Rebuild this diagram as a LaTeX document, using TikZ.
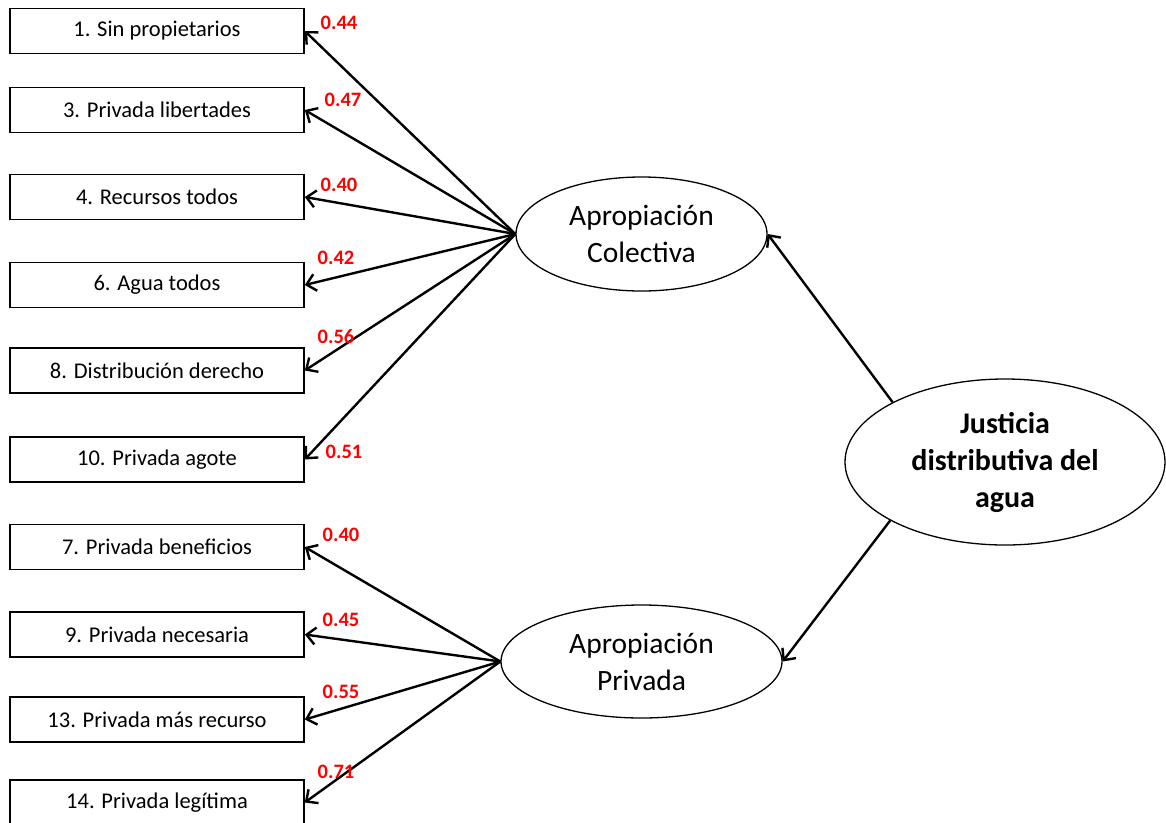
\documentclass[tikz,border=0pt]{standalone}
\usepackage{fontspec}
\setmainfont{Carlito}
\usetikzlibrary{arrows.meta,shapes.geometric}
\definecolor{lblred}{RGB}{255,0,0}
\begin{document}
\begin{tikzpicture}[x=1pt,y=-1pt,
  item/.style={draw,line width=1.6pt,minimum width=294pt,minimum height=45pt,inner sep=0pt,
    font=\fontsize{22.5}{26}\selectfont},
  latent/.style={draw,ellipse,line width=1.3pt,inner sep=0pt,align=center,
    font=\fontsize{29.5}{37}\selectfont},
  load/.style={lblred,font=\bfseries\fontsize{20.5}{24}\selectfont,inner sep=0pt},
  path/.style={line width=2.4pt,-{Straight Barb[length=9pt,width=17pt]}}]
\clip (0,0) rectangle (1166,822);
\fill[white] (0,0) rectangle (1166,822);
% observed items
\node[item] (i1)  at (157,31)    {1. Sin propietarios};
\node[item] (i3)  at (157,110)   {3. Privada libertades};
\node[item] (i4)  at (157,197)   {4. Recursos todos};
\node[item] (i6)  at (157,285)   {6. Agua todos};
\node[item] (i8)  at (157,370.5) {8. Distribución derecho};
\node[item] (i10) at (157,459.5) {10. Privada agote};
\node[item] (i7)  at (157,547)   {7. Privada beneficios};
\node[item] (i9)  at (157,634.5) {9. Privada necesaria};
\node[item] (i13) at (157,719.5) {13. Privada más recurso};
\node[item] (i14) at (157,802.5) {14. Privada legítima};
% latent variables
\node[latent,minimum width=251pt,minimum height=114pt] (C) at (641.5,234) {Apropiación\\Colectiva};
\node[latent,minimum width=281pt,minimum height=113pt] (P) at (641.5,661.5) {Apropiación\\Privada};
\node[latent,minimum width=320pt,minimum height=166pt,font=\bfseries\fontsize{30}{37}\selectfont] (J) at (1005,462) {Justicia\\distributiva del\\agua};
% paths
\draw[path] (J.152) -- (C.east);
\draw[path] (J.207) -- (P.east);
\foreach \t in {i1,i3,i4,i6,i8,i10} \draw[path] (C.west) -- (\t.east);
\foreach \t in {i7,i9,i13,i14} \draw[path] (P.west) -- (\t.east);
% loadings
\node[load] (l1)  at (339,23)  {0.44};
\node[load] (l3)  at (343,100) {0.47};
\node[load] (l4)  at (339,185) {0.40};
\node[load] (l6)  at (336,258) {0.42};
\node[load] (l8)  at (336,337) {0.56};
\node[load] (l10) at (344,452) {0.51};
\node[load] (l7)  at (341,535) {0.40};
\node[load] (l9)  at (341,620) {0.45};
\node[load] (l13) at (341,692) {0.55};
\node[load] (l14) at (336,772) {0.71};
\end{tikzpicture}
\end{document}
